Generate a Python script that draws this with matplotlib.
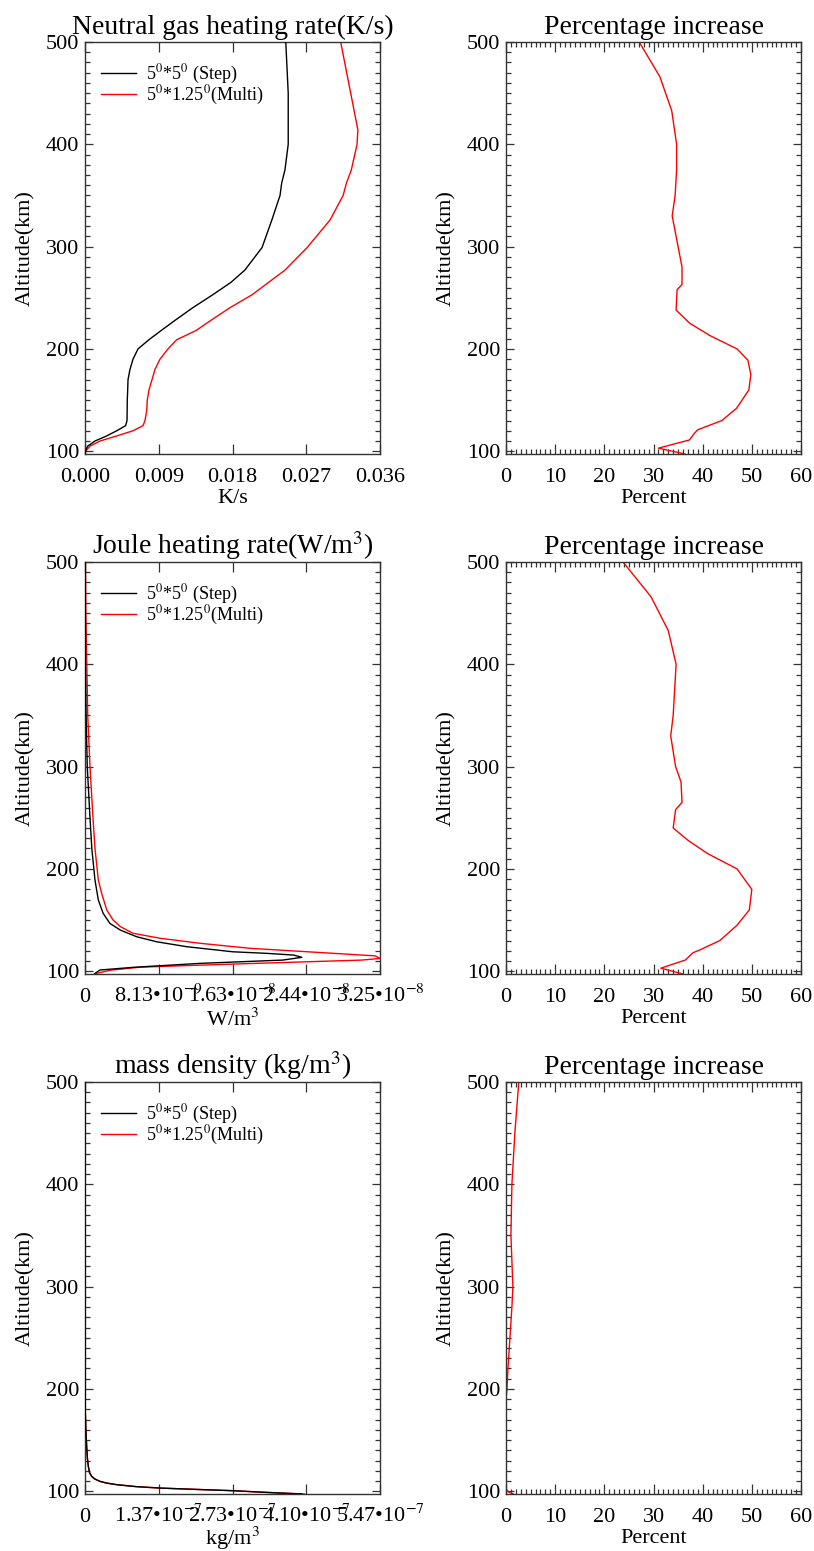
import matplotlib
matplotlib.use('Agg')
from matplotlib import pyplot as plt
from matplotlib.ticker import MultipleLocator, FixedLocator, FixedFormatter

plt.rcParams['font.family'] = ['Liberation Serif', 'DejaVu Serif']
plt.rcParams['mathtext.fontset'] = 'stix'

# Neutral gas heating rate (K/s)
alt_ngh_step = [97.3, 100, 105, 110, 115, 120, 125, 130, 150, 160, 170, 180, 190, 200, 209, 218, 228, 240, 253, 265,
                277, 299, 326, 350, 362, 375, 400, 450, 500]
ngh_step = [0.0, 0.00004, 0.00033, 0.00122, 0.00265, 0.00387, 0.00496, 0.00513, 0.00516, 0.00521, 0.00525, 0.00549,
            0.00586, 0.00647, 0.0078, 0.0093, 0.0110, 0.0131, 0.0156, 0.0178, 0.0195, 0.0216, 0.0228, 0.0238, 0.0240,
            0.0244, 0.0248, 0.0248, 0.0245]
alt_ngh_multi = [97.3, 100, 105, 110, 115, 120, 125, 130, 140, 150, 160, 170, 180, 190, 200, 209, 218, 228, 240, 253,
                 277, 299, 326, 350, 362, 375, 400, 414, 447, 500]
ngh_multi = [0.0, 0.00008, 0.00061, 0.00183, 0.0039, 0.00586, 0.00708, 0.00732, 0.00753, 0.0076, 0.00781, 0.00818,
             0.00854, 0.00915, 0.01013, 0.01119, 0.01355, 0.01538, 0.01763, 0.0204, 0.0244, 0.0271, 0.0299, 0.0315,
             0.0319, 0.0325, 0.0332, 0.0333, 0.0325, 0.0312]
alt_ngh_pct = [97.3, 103, 111, 118, 121, 130, 142, 160, 175, 189, 200, 213, 225, 238, 258, 263, 280, 290, 310, 330,
               350, 375, 400, 433, 466, 500]
ngh_pct = [36.4, 31.0, 37.3, 38.4, 39.0, 43.9, 46.9, 49.4, 49.8, 49.2, 47.0, 41.5, 37.4, 34.6, 34.8, 35.8, 35.8,
           35.4, 34.6, 33.8, 34.4, 34.7, 34.7, 33.7, 31.3, 27.1]

# Joule heating rate (W/m^3)
alt_jh_step = [96.3, 98.5, 101.2, 103.8, 107.7, 110.9, 113.6, 115.8, 117.5, 119, 124, 128.8, 133.7, 140.2, 146.7,
               156.6, 169.6, 189, 220, 250, 300, 350, 400, 500]
jh_step = [0.9e-9, 1.2e-9, 1.65e-9, 5.3e-9, 1.27e-8, 2.18e-8, 2.39e-8, 2.3e-8, 2.0e-8, 1.63e-8, 1.12e-8, 7.9e-9,
           5.7e-9, 3.9e-9, 2.75e-9, 2.0e-9, 1.47e-9, 1.1e-9, 7.5e-10, 5.5e-10, 2.5e-10, 1.2e-10, 5e-11, 1e-11]
alt_jh_multi = [96.3, 98, 101, 104, 107, 110.9, 112.5, 115, 117.5, 122.4, 127.3, 132.2, 137.1, 143.6, 150, 159.8,
                176, 189, 220, 250, 300, 350, 400, 450, 500]
jh_multi = [1.1e-9, 1.3e-9, 2.8e-9, 6.1e-9, 1.63e-8, 3.05e-8, 3.25e-8, 3.2e-8, 2.74e-8, 1.82e-8, 1.27e-8, 8.3e-9,
            5.3e-9, 3.9e-9, 3.1e-9, 2.4e-9, 1.84e-9, 1.47e-9, 1.1e-9, 8.8e-10, 5.5e-10, 3e-10, 2e-10, 1e-10, 5e-11]
alt_jh_pct = [97.3, 103, 111, 118, 121, 130, 145, 160, 180, 190, 200, 215, 228, 240, 258, 265, 285, 300, 330, 350,
              400, 433, 466, 500]
jh_pct = [36.0, 31.5, 36.5, 38.0, 39.5, 43.5, 47.0, 49.5, 50.0, 48.5, 47.0, 41.0, 37.0, 34.0, 34.5, 35.8, 35.6,
          34.5, 33.5, 34.0, 34.6, 33.0, 29.5, 23.8]

# mass density (kg/m^3)
alt_rho_step = [97.3, 99, 100.5, 102, 103.1, 104.5, 106.4, 108, 109.6, 112, 114.5, 118, 124.3, 132, 143.8, 160,
                176.7, 200, 250, 300, 400, 500]
rho_step = [4.02e-7, 3.3e-7, 2.75e-7, 1.95e-7, 1.39e-7, 9.5e-8, 5.9e-8, 4.0e-8, 2.8e-8, 1.8e-8, 1.24e-8, 8.5e-9,
            6.2e-9, 4.5e-9, 3.1e-9, 1.6e-9, 6e-10, 3e-10, 1e-10, 4e-11, 1e-11, 2e-12]
alt_rho_multi = [97.3, 99, 100.5, 102, 103.1, 104.5, 106.4, 108, 109.6, 112, 114.5, 118, 124.3, 132, 143.8, 160,
                 176.7, 200, 250, 300, 400, 500]
rho_multi = [4.07e-7, 3.32e-7, 2.76e-7, 1.95e-7, 1.39e-7, 9.5e-8, 5.9e-8, 4.0e-8, 2.8e-8, 1.8e-8, 1.24e-8, 8.5e-9,
             6.2e-9, 4.5e-9, 3.1e-9, 1.6e-9, 6e-10, 3e-10, 1e-10, 4e-11, 1e-11, 2e-12]
alt_rho_pct = [97.3, 99, 101, 104, 110, 150, 185, 190, 200, 220, 250, 280, 300, 350, 400, 450, 500]
rho_pct = [1.5, 0.6, 0.2, -0.3, -0.5, -0.6, -0.3, 0.0, 0.2, 0.4, 0.8, 1.2, 1.4, 1.0, 1.2, 1.8, 2.6]

titles = ['Neutral gas heating rate(K/s)', 'Joule heating rate(W/m$^3$)', 'mass density (kg/m$^3$)']
xlabels = ['K/s', 'W/m$^3$', 'kg/m$^3$']
xmax = [0.036, 3.2514e-8, 5.47e-7]
xtick_labels = [['0.000', '0.009', '0.018', '0.027', '0.036'],
                ['0', '8.13•10$^{-9}$', '1.63•10$^{-8}$', '2.44•10$^{-8}$', '3.25•10$^{-8}$'],
                ['0', '1.37•10$^{-7}$', '2.73•10$^{-7}$', '4.10•10$^{-7}$', '5.47•10$^{-7}$']]
legend_labels = ['5$^0$*5$^0$ (Step)', '5$^0$*1.25$^0$(Multi)']

step_data = [(ngh_step, alt_ngh_step), (jh_step, alt_jh_step), (rho_step, alt_rho_step)]
multi_data = [(ngh_multi, alt_ngh_multi), (jh_multi, alt_jh_multi), (rho_multi, alt_rho_multi)]
pct_data = [(ngh_pct, alt_ngh_pct), (jh_pct, alt_jh_pct), (rho_pct, alt_rho_pct)]

W, H = 814, 1551
row_tops = [42, 562, 1082]
ax_h = 412


def style_axes(ax):
    ax.set_ylim(97.3, 500)
    ax.yaxis.set_major_locator(MultipleLocator(100))
    ax.yaxis.set_minor_locator(MultipleLocator(10))
    ax.tick_params(which='both', direction='in', top=True, right=True, labelsize=16, width=0.9, color='#333333')
    ax.tick_params(axis='y', which='major', length=6, pad=4)
    ax.tick_params(axis='y', which='minor', length=3.5)
    ax.tick_params(axis='x', which='major', length=7, pad=20)
    ax.tick_params(axis='x', which='minor', length=3.5)
    for s in ax.spines.values():
        s.set_linewidth(1.0)
        s.set_color('#333333')
    ax.set_ylabel('Altitude(km)', fontsize=16, labelpad=8)


def finish_xaxis(ax, label, ypos):
    # baseline-aligned tick labels so superscripts don't push them down
    for lbl in ax.get_xticklabels():
        lbl.set_verticalalignment('baseline')
    ax.set_xlabel(label, fontsize=16)
    ax.xaxis.set_label_coords(0.5, ypos)


fig = plt.figure(figsize=(W / 100, H / 100), dpi=100)

for i in range(3):
    bottom = 1 - (row_tops[i] + ax_h) / H

    # left column: profiles
    ax = fig.add_axes([85 / W, bottom, 295 / W, ax_h / H])
    style_axes(ax)
    ax.plot(step_data[i][0], step_data[i][1], color='black', lw=1.0, label=legend_labels[0], zorder=3)
    ax.plot(multi_data[i][0], multi_data[i][1], color='red', lw=1.0, label=legend_labels[1], zorder=2)
    ax.set_xlim(0, xmax[i])
    ax.xaxis.set_major_locator(FixedLocator([xmax[i] * k / 4 for k in range(5)]))
    ax.xaxis.set_major_formatter(FixedFormatter(xtick_labels[i]))
    ax.set_title(titles[i], fontsize=20, pad=6)
    finish_xaxis(ax, xlabels[i], -0.074 if i == 2 else -0.084)
    ax.legend(loc='upper left', bbox_to_anchor=(0.055, 0.950), frameon=False, fontsize=13,
              handlelength=1.9, handletextpad=0.6, labelspacing=-0.13, borderpad=0, borderaxespad=0)

    # right column: percentage increase
    ax2 = fig.add_axes([506 / W, bottom, 295 / W, ax_h / H])
    style_axes(ax2)
    ax2.plot(pct_data[i][0], pct_data[i][1], color='red', lw=1.0)
    ax2.set_xlim(0, 60)
    ax2.xaxis.set_major_locator(MultipleLocator(10))
    ax2.xaxis.set_minor_locator(MultipleLocator(1))
    ax2.set_title('Percentage increase', fontsize=20, pad=6)
    finish_xaxis(ax2, 'Percent', -0.084)

plt.savefig('out.png', dpi=100)
